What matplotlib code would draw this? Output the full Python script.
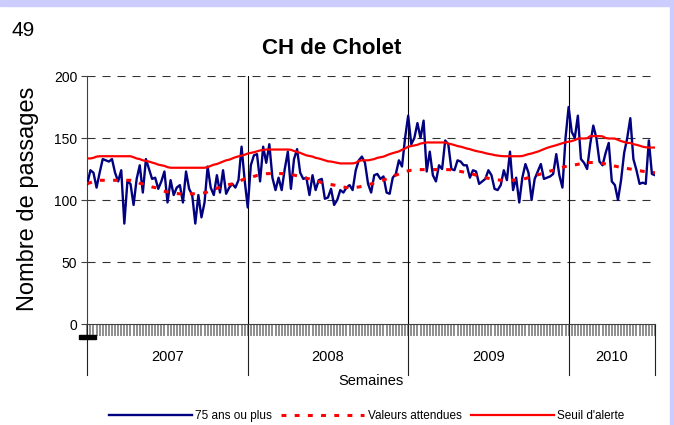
import matplotlib
matplotlib.use('Agg')
import matplotlib.pyplot as plt
from matplotlib.lines import Line2D
from matplotlib.patches import Rectangle
import numpy as np

plt.rcParams['font.family'] = ['Liberation Sans', 'DejaVu Sans']
plt.rcParams['lines.scale_dashes'] = False

years = ['2007', '2008', '2009', '2010']
year_weeks = [52, 52, 52, 29]

# weekly counts, 75 years and over
passages = [
    113, 124, 122, 110, 122, 133, 132, 131, 133, 122, 115, 124, 81, 115, 113, 96, 117, 128, 106, 133,
    125, 117, 118, 109, 115, 123, 98, 116, 104, 110, 112, 98, 123, 109, 104, 81, 104, 86, 98, 127,
    110, 104, 120, 106, 124, 105, 110, 113, 110, 116, 143, 116,
    94, 128, 136, 137, 115, 143, 130, 145, 118, 108, 118, 108, 125, 139, 109, 133, 141, 122, 117, 118,
    104, 120, 108, 116, 117, 101, 102, 109, 96, 100, 108, 106, 110, 112, 108, 124, 132, 135, 130, 113,
    106, 120, 121, 117, 119, 106, 105, 118, 121, 132, 127, 150,
    168, 145, 150, 162, 150, 164, 123, 139, 120, 115, 128, 125, 148, 145, 125, 124, 132, 131, 128, 128,
    118, 124, 123, 113, 115, 117, 124, 120, 109, 108, 112, 124, 116, 139, 108, 118, 98, 118, 129, 122,
    100, 117, 123, 129, 117, 118, 119, 121, 137, 120, 110, 150,
    175, 155, 150, 168, 133, 130, 125, 145, 160, 150, 131, 128, 138, 146, 115, 112, 100, 116, 138, 150,
    166, 133, 124, 113, 114, 113, 148, 121, 120,
]

attendues = [
    113.2, 114, 115, 115.9, 115.9, 115.9, 115.9, 115.9, 115.9, 115.9, 115.9, 115.9, 115.9, 115.9, 115.9,
    115.5, 115, 113.5, 113, 112, 111.3, 110.5, 110, 109, 107.5, 107, 106.5, 106, 105.5, 105.2,
    105, 105, 105, 105, 105, 105, 105, 105.5, 105.8, 106.5, 107.5, 108.5, 109.5, 110.2, 111, 111.8,
    112.5, 113, 114, 115, 116, 117,
    117.3, 118, 119, 119.8, 120.2, 120.8, 121.2, 121.3, 121.3, 121.3, 121.3, 121.3, 121.2, 121, 120.6,
    120.1, 119.5, 118.8, 118.2, 117.5, 117, 116.2, 115.5, 114.8, 114, 113.5, 113, 112.5, 112, 111.5,
    111, 110.5, 110, 110, 110, 110.2, 110.5, 111, 112, 112.5, 113, 113.8, 114.6, 115.5, 116.2, 117,
    118, 119, 120, 121, 122, 123,
    123.5, 124, 124.3, 124.5, 124.5, 124.5, 124.5, 124.5, 124.5, 124.5, 124.5, 124.5, 124.5, 124.5,
    124.3, 124, 123.5, 123, 122.5, 122, 121.3, 120.8, 120, 119.3, 118.6, 118, 117.5, 117, 116.5, 116.2,
    116, 116, 116, 116, 116, 116.2, 116.7, 117, 117.3, 118, 118.8, 119.5, 120.3, 121, 121.8, 122.6,
    123.3, 124, 124.8, 125.6, 126.3, 127,
    127.2, 127.8, 128.3, 128.8, 129.3, 129.8, 130.1, 130.2, 130.2, 130.2, 130, 129.5, 129, 128.3, 127.8,
    127.3, 126.8, 126.3, 125.8, 125.4, 125, 124.5, 124, 123.6, 123.2, 122.8, 122.5, 122.2, 122,
]

seuil = [
    133.5, 133.5, 134, 135, 135.3, 135.3, 135.3, 135.3, 135.3, 135.3, 135.3, 135.3, 135.3, 135.3, 135.3,
    134.5, 133.5, 133, 132, 131.5, 131, 130.2, 129.5, 128.5, 128, 127.5, 126.5, 126,
    126, 126, 126, 126, 126, 126, 126, 126, 126, 126, 126,
    126.5, 127.5, 128.5, 129, 130, 131, 132, 132.5, 133.5, 134.5, 135.2, 135.8, 136.5,
    137.5, 138, 138.5, 139.2, 140, 140.3, 140.7, 140.7, 140.7, 140.7, 140.7, 140.7, 140.7, 140.7,
    140.5, 139.5, 138.8, 138, 137, 136, 135.5, 135, 134, 133.5, 132.8, 132, 131.2, 131, 130.5, 130,
    129.5, 129.5, 129.5, 129.5, 129.5,
    130, 131.5, 132, 132, 132, 132.5, 133, 134, 134.5, 135, 136, 137, 137.8, 138.5, 139.2, 140.5, 141.5,
    143, 143.5, 144, 144.5, 145.5, 146, 146.4, 146.4, 146.4, 146.4, 146.4, 146.4, 146.4,
    145.5, 145, 144.3, 143.5, 143, 142.3, 141.5, 141, 140.2, 139.5, 139, 138.5, 137.8, 137.2, 136.8,
    136.2, 135.8, 135.5, 135.3, 135.3, 135.3, 135.3, 135.3, 135.3,
    135.5, 136.2, 137, 137.5, 138.3, 139, 140, 141, 142, 142.8, 143.5, 144.2, 145, 145.8, 146.5,
    147, 147.5, 148.3, 149.5, 149.6, 149.6, 149.8, 151.5, 151.5, 151.5, 151.5, 151.3, 150, 149.6, 149.6,
    149.5, 148.5, 147.5, 146.8, 146, 146, 145, 144.5, 143.8, 143, 142.5, 142.3, 142.3, 142.3,
]

W, H = 674, 425
fig = plt.figure(figsize=(W / 100, H / 100), dpi=100)
ax = fig.add_axes([87.3 / W, 1 - 324 / H, (655 - 87.3) / W, 248 / H])

weeks = np.arange(len(passages))
starts = np.concatenate([[0], np.cumsum(year_weeks)[:-1]])
last = len(passages) - 1

# grid and year separators
for y in [50, 100, 150, 200]:
    ax.axhline(y, color='#333333', lw=0.8, linestyle=(0, (5.8, 5)), zorder=1)
for s in starts[1:]:
    ax.axvline(s, color='black', lw=0.8, zorder=1)

ax.plot(weeks, passages, color='#000080', lw=1.7, zorder=3)
ax.plot(weeks, attendues, color='#FF0000', lw=2.2, linestyle=(0, (3.5, 6)), zorder=4)
ax.plot(weeks, seuil, color='#FF0000', lw=1.6, zorder=4)

ax.set_xlim(0, last)
ax.set_ylim(0, 200)
ax.set_yticks([0, 50, 100, 150, 200])
ax.set_xticks([])
ax.set_xticks(weeks, minor=True)
ax.tick_params(axis='x', which='minor', direction='out', length=8.6, width=1.1, color='#707070')
ax.tick_params(axis='y', direction='out', length=4.3, width=0.8, color='#404040',
               labelsize=10, pad=3)
for side in ['top', 'right']:
    ax.spines[side].set_visible(False)
for side in ['left', 'bottom']:
    ax.spines[side].set_color('#404040')
    ax.spines[side].set_linewidth(0.8)

# category group labels under the axis
trans = ax.get_xaxis_transform()
edges = list(starts) + [last]
for e in edges:
    ax.add_line(Line2D([e, e], [0, -0.2056], transform=trans, color='#202020', lw=0.8, clip_on=False))
for i, yr in enumerate(years):
    ax.text((edges[i] + edges[i + 1]) / 2, -0.133, yr, transform=trans, ha='center', va='center',
            fontsize=10.5)
ax.text(0.5, -0.23, 'Semaines', transform=ax.transAxes, ha='center', va='center', fontsize=10.5)

fig.text(28 / W, 1 - 199 / H, 'Nombre de passages', rotation=90, ha='center', va='center', fontsize=17)
fig.text(332 / W, 1 - 48 / H, 'CH de Cholet', ha='center', va='center', fontsize=16, fontweight='bold')
fig.text(11 / W, 1 - 30 / H, '49', ha='left', va='center', fontsize=15)

# small black mark and slide border
fig.patches.append(Rectangle((79 / W, 1 - 339 / H), 17 / W, 4 / H, transform=fig.transFigure,
                             color='black'))
fig.patches.append(Rectangle((0, 1 - 5.7 / H), 1, 5.7 / H, transform=fig.transFigure, color='#CCCCFF'))
fig.patches.append(Rectangle((670 / W, 0), 4 / W, 1, transform=fig.transFigure, color='#CCCCFF'))

handles = [Line2D([], [], color='#000080', lw=1.7),
           Line2D([], [], color='#FF0000', lw=2.2, linestyle=(0, (3.5, 6))),
           Line2D([], [], color='#FF0000', lw=1.6)]
labels = ['75 ans ou plus', 'Valeurs attendues', "Seuil d'alerte"]
fig.legend(handles, labels, loc='center', bbox_to_anchor=(0.544, 1 - 416 / H), ncol=3, frameon=False,
           fontsize=8.5, handlelength=7.0, handletextpad=0.3, columnspacing=0.8)

fig.savefig('out.png', dpi=100)
